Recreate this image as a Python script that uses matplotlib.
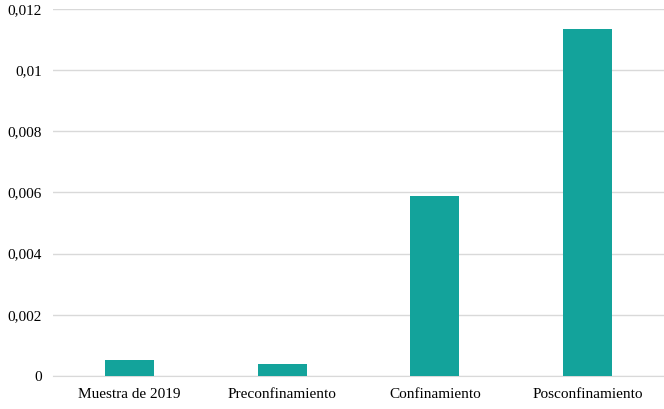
import matplotlib
matplotlib.use("Agg")
import matplotlib.pyplot as plt
from matplotlib.ticker import FuncFormatter

categories = ["Muestra de 2019", "Preconfinamiento", "Confinamiento", "Posconfinamiento"]
values = [0.00052, 0.00039, 0.00589, 0.01135]
y_ticks = [0, 0.002, 0.004, 0.006, 0.008, 0.010, 0.012]

BAR_COLOR = "#13A39B"
GRID_COLOR = "#D9D9D9"

plt.rcParams["font.family"] = ["Liberation Serif", "DejaVu Serif"]


def comma_fmt(v, _pos):
    if abs(v) < 1e-12:
        return "0"
    return f"{v:.3f}".rstrip("0").replace(".", ",")


fig = plt.figure(figsize=(6.64, 4.09), dpi=100)
ax = fig.add_axes([0.08, 0.081, 0.92, 0.897])

x = range(len(categories))
ax.bar(x, values, width=0.32, color=BAR_COLOR, zorder=3)

ax.set_xlim(-0.5, len(categories) - 0.5)
ax.set_ylim(0, 0.012)
ax.set_yticks(y_ticks)
ax.yaxis.set_major_formatter(FuncFormatter(comma_fmt))
ax.set_xticks(list(x))
ax.set_xticklabels(categories)

ax.grid(axis="y", color=GRID_COLOR, linewidth=1.0, zorder=0)
for side in ["left", "right", "top"]:
    ax.spines[side].set_visible(False)
ax.spines["bottom"].set_color(GRID_COLOR)
ax.tick_params(axis="both", length=0, labelsize=11, colors="#000000")
ax.tick_params(axis="x", pad=9)
ax.tick_params(axis="y", pad=8)

fig.savefig("out.png", dpi=100)
